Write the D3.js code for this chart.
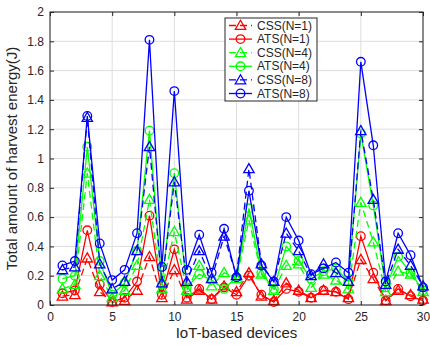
<!DOCTYPE html>
<html><head><meta charset="utf-8">
<script src="https://cdn.jsdelivr.net/npm/d3@7"></script>
<style>body{margin:0;background:#fff;}svg{display:block;font-family:"Liberation Sans",Arial,sans-serif;}</style>
</head><body>
<svg id="c" width="430" height="345"></svg>
<script>
const devices = d3.range(1, 31);
const cssN1 = [0.06,0.07,0.32,0.09,0.02,0.03,0.10,0.33,0.05,0.24,0.04,0.10,0.04,0.13,0.09,0.22,0.06,0.03,0.15,0.10,0.05,0.10,0.09,0.05,0.31,0.18,0.03,0.10,0.07,0.04];
const atsN1 = [0.08,0.10,0.51,0.14,0.02,0.05,0.16,0.61,0.07,0.38,0.05,0.11,0.04,0.12,0.07,0.20,0.07,0.02,0.11,0.09,0.05,0.10,0.09,0.04,0.47,0.22,0.03,0.11,0.06,0.03];
const cssN4 = [0.11,0.14,0.90,0.20,0.05,0.10,0.27,0.72,0.11,0.50,0.10,0.27,0.13,0.22,0.18,0.58,0.21,0.10,0.27,0.28,0.12,0.21,0.17,0.11,0.70,0.43,0.09,0.23,0.21,0.09];
const atsN4 = [0.18,0.20,1.08,0.30,0.07,0.15,0.37,1.19,0.14,0.90,0.12,0.21,0.17,0.11,0.19,0.66,0.22,0.11,0.40,0.30,0.18,0.23,0.25,0.16,1.17,0.68,0.12,0.33,0.22,0.10];
const cssN8 = [0.24,0.26,1.28,0.28,0.11,0.16,0.37,1.08,0.15,0.84,0.16,0.37,0.18,0.47,0.20,0.93,0.28,0.16,0.49,0.37,0.20,0.28,0.22,0.16,1.19,0.72,0.14,0.38,0.27,0.13];
const atsN8 = [0.27,0.30,1.29,0.42,0.17,0.24,0.49,1.81,0.26,1.46,0.24,0.48,0.22,0.52,0.19,0.78,0.27,0.16,0.60,0.44,0.21,0.25,0.29,0.22,1.66,1.09,0.16,0.49,0.34,0.12];
const xTicks = [0,5,10,15,20,25,30];
const yTicks = [0,0.2,0.4,0.6,0.8,1,1.2,1.4,1.6,1.8,2];
const seriesNames = ["CSS(N=1)","ATS(N=1)","CSS(N=4)","ATS(N=4)","CSS(N=8)","ATS(N=8)"];
const seriesColors = ["#ff0000","#ff0000","#00ff00","#00ff00","#0000ff","#0000ff"];
const seriesMarkers = ["tri","circ","tri","circ","tri","circ"];
const seriesDash = [true,false,true,false,true,false];
const seriesValues = [cssN1, atsN1, cssN4, atsN4, cssN8, atsN8];

const svg = d3.select("#c");
const L = 50, R = 423, T = 12, B = 305;
const x = d3.scaleLinear().domain([0,30]).range([L,R]);
const y = d3.scaleLinear().domain([0,2]).range([B,T]);
const axisCol = "#262626";

// grid
const g = svg.append("g");
g.selectAll(".gx").data(xTicks).enter().append("line")
  .attr("x1",d=>x(d)).attr("x2",d=>x(d)).attr("y1",T).attr("y2",B)
  .attr("stroke","#dedede").attr("stroke-width",1);
g.selectAll(".gy").data(yTicks).enter().append("line")
  .attr("y1",d=>y(d)).attr("y2",d=>y(d)).attr("x1",L).attr("x2",R)
  .attr("stroke","#dedede").attr("stroke-width",1);

// series
function markerPath(type){
  if(type==="tri"){ const s=5.2; return `M0,${-s}L${s*1.0},${s*0.75}L${-s*1.0},${s*0.75}Z`; }
  return null;
}
seriesValues.forEach((vals,i)=>{
  const pts = devices.map((d,j)=>[d, vals[j]]);
  const line = d3.line().x(d=>x(d[0])).y(d=>y(d[1]));
  svg.append("path").attr("d", line(pts)).attr("fill","none")
    .attr("stroke", seriesColors[i]).attr("stroke-width",1.3)
    .attr("stroke-dasharray", seriesDash[i] ? "7,4" : null);
  const mg = svg.append("g");
  pts.forEach(p=>{
    if(seriesMarkers[i]==="circ"){
      mg.append("circle").attr("cx",x(p[0])).attr("cy",y(p[1])).attr("r",4.3)
        .attr("fill","none").attr("stroke",seriesColors[i]).attr("stroke-width",1.3);
    } else {
      mg.append("path").attr("d",markerPath("tri"))
        .attr("transform",`translate(${x(p[0])},${y(p[1])})`)
        .attr("fill","none").attr("stroke",seriesColors[i]).attr("stroke-width",1.3);
    }
  });
});

// axes box
svg.append("rect").attr("x",L).attr("y",T).attr("width",R-L).attr("height",B-T)
  .attr("fill","none").attr("stroke",axisCol).attr("stroke-width",1);
const xb = svg.append("g").attr("transform",`translate(0,${B})`)
  .call(d3.axisBottom(x).tickValues(xTicks).tickSizeInner(-4).tickSizeOuter(0).tickPadding(7).tickFormat(d3.format("d")));
const xt = svg.append("g").attr("transform",`translate(0,${T})`)
  .call(d3.axisTop(x).tickValues(xTicks).tickSizeInner(-4).tickSizeOuter(0).tickFormat(""));
const yl = svg.append("g").attr("transform",`translate(${L},0)`)
  .call(d3.axisLeft(y).tickValues(yTicks).tickSizeInner(-4).tickSizeOuter(0).tickPadding(6).tickFormat(d=>d3.format("")(+d.toFixed(1))));
const yr = svg.append("g").attr("transform",`translate(${R},0)`)
  .call(d3.axisRight(y).tickValues(yTicks).tickSizeInner(-4).tickSizeOuter(0).tickFormat(""));
[xb,xt,yl,yr].forEach(a=>{
  a.select(".domain").remove();
  a.selectAll("line").attr("stroke",axisCol);
  a.selectAll("text").attr("fill",axisCol).style("font-size","12px").style("font-family","'Liberation Sans',Arial,sans-serif");
});

// labels
svg.append("text").attr("x",(L+R)/2).attr("y",338).attr("text-anchor","middle")
  .attr("fill",axisCol).style("font-size","15px").text("IoT-based devices");
svg.append("text").attr("transform",`translate(17,${(T+B)/2}) rotate(-90)`).attr("text-anchor","middle")
  .attr("fill",axisCol).style("font-size","15px").text("Total amount of harvest energy(J)");

// legend
const lg = svg.append("g");
const lx = 225, ly = 18, lw = 92, lh = 83;
lg.append("rect").attr("x",lx).attr("y",ly).attr("width",lw).attr("height",lh)
  .attr("fill","#fff").attr("stroke",axisCol).attr("stroke-width",1);
seriesNames.forEach((n,i)=>{
  const cy = ly + 7.5 + i*13.6;
  lg.append("line").attr("x1",lx+4).attr("x2",lx+27).attr("y1",cy).attr("y2",cy)
    .attr("stroke",seriesColors[i]).attr("stroke-width",1.3)
    .attr("stroke-dasharray", seriesDash[i] ? "7,4" : null);
  if(seriesMarkers[i]==="circ"){
    lg.append("circle").attr("cx",lx+15.5).attr("cy",cy).attr("r",4.3)
      .attr("fill","none").attr("stroke",seriesColors[i]).attr("stroke-width",1.3);
  } else {
    lg.append("path").attr("d",markerPath("tri")).attr("transform",`translate(${lx+15.5},${cy})`)
      .attr("fill","none").attr("stroke",seriesColors[i]).attr("stroke-width",1.3);
  }
  lg.append("text").attr("x",lx+32).attr("y",cy+4).attr("fill",axisCol)
    .style("font-size","12px").text(n);
});
</script>
</body></html>
